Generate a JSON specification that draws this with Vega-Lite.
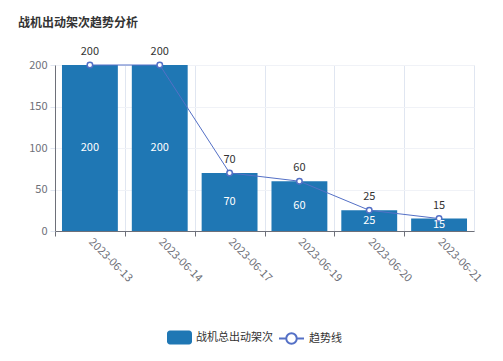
{
  "$schema": "https://vega.github.io/schema/vega-lite/v6.json",
  "width": 419,
  "height": 166,
  "autosize": {"type": "none"},
  "padding": {"left": 55, "top": 65, "right": 29, "bottom": 130},
  "config": {
    "font": "Noto Sans CJK SC",
    "view": {"stroke": "#e0e6f1"},
    "legend": {"direction": "horizontal", "padding": 0, "labelFont": "Noto Sans CJK SC", "labelFontSize": 11, "labelColor": "#333333", "symbolSize": 625, "labelOffset": 4}
  },
  "title": {"text": "战机出动架次趋势分析", "anchor": "start", "frame": "group", "dx": -37, "offset": 16, "fontSize": 12, "fontWeight": "bold", "color": "#333333", "font": "Noto Sans CJK SC"},
  "data": {"values": [
    {"date": "2023-06-13", "value": 200},
    {"date": "2023-06-14", "value": 200},
    {"date": "2023-06-17", "value": 70},
    {"date": "2023-06-19", "value": 60},
    {"date": "2023-06-20", "value": 25},
    {"date": "2023-06-21", "value": 15}
  ]},
  "encoding": {
    "x": {
      "field": "date", "type": "nominal", "sort": null,
      "scale": {"paddingInner": 0.2, "paddingOuter": 0.1},
      "axis": {
        "title": null, "labelAngle": 45, "labelAlign": "left", "labelBaseline": "middle",
        "tickOffset": -34.9, "labelOffset": 34.9, "labelPadding": 4,
        "labelColor": "#6e7079", "labelFontSize": 11,
        "domainColor": "#6e7079", "tickColor": "#6e7079", "tickSize": 5,
        "grid": true, "gridColor": "#e0e6f1"
      }
    }
  },
  "layer": [
    {
      "layer": [
        {
          "mark": {"type": "bar"},
          "encoding": {
            "y": {"field": "value", "type": "quantitative", "scale": {"domain": [0, 200]},
              "axis": {"title": null, "values": [0, 50, 100, 150, 200], "labelColor": "#6e7079", "labelFontSize": 11, "labelPadding": 3,
                "domainColor": "#6e7079", "tickColor": "#e0e6f1", "tickSize": 5, "gridColor": "#f0f2f7"}},
            "fill": {"datum": "战机总出动架次",
              "scale": {"domain": ["战机总出动架次"], "range": ["#1f77b4"]},
              "legend": {
                "orient": "none", "legendX": 112, "legendY": 260, "title": null,
                "symbolType": "M-0.76,-0.56H0.76A0.24,0.24 0 0 1 1,-0.32V0.32A0.24,0.24 0 0 1 0.76,0.56H-0.76A0.24,0.24 0 0 1 -1,0.32V-0.32A0.24,0.24 0 0 1 -0.76,-0.56Z",
                "symbolStrokeWidth": 0, "symbolOpacity": 1
              }}
          }
        },
        {
          "mark": {"type": "line", "strokeWidth": 1},
          "encoding": {
            "y": {"field": "value", "type": "quantitative"},
            "stroke": {"datum": "趋势线",
              "scale": {"domain": ["趋势线"], "range": ["#5470c6"]},
              "legend": {
                "orient": "none", "legendX": 223, "legendY": 260, "title": null,
                "symbolType": "M-1,0H-0.42M0.42,0H1M-0.42,0A0.42,0.42 0 1,0 0.42,0A0.42,0.42 0 1,0 -0.42,0Z",
                "symbolFillColor": "#ffffff", "symbolStrokeWidth": 2, "symbolOpacity": 1
              }}
          }
        },
        {
          "mark": {"type": "point", "shape": "circle", "size": 30, "filled": true, "fill": "#ffffff", "stroke": "#5470c6", "strokeWidth": 1.5, "opacity": 1},
          "encoding": {"y": {"field": "value", "type": "quantitative"}}
        },
        {
          "mark": {"type": "text", "dy": -13, "fontSize": 11, "color": "#333333"},
          "encoding": {
            "y": {"field": "value", "type": "quantitative"},
            "text": {"field": "value", "type": "quantitative"}
          }
        }
      ]
    },
    {
      "mark": {"type": "text", "fontSize": 11, "color": "#ffffff"},
      "encoding": {
        "y": {"field": "value", "type": "quantitative", "scale": {"domain": [0, 400]}, "axis": null},
        "text": {"field": "value", "type": "quantitative"}
      }
    }
  ],
  "resolve": {"scale": {"y": "independent"}}
}
